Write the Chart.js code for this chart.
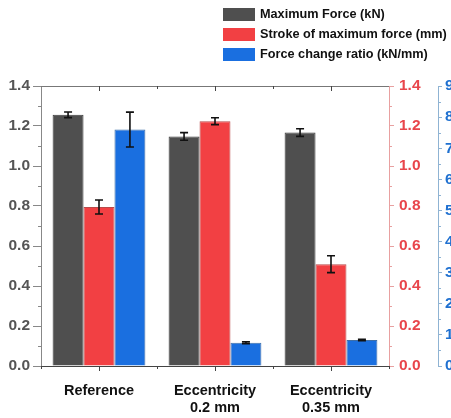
<!DOCTYPE html>
<html>
<head>
<meta charset="utf-8">
<script src="https://cdn.jsdelivr.net/npm/chart.js@4"></script>
<style>
  html, body { margin: 0; padding: 0; overflow: hidden; background: #fff; }
  #wrap { position: relative; width: 458px; height: 418px; }
  #legend { position: absolute; left: 223px; top: 8px; font: bold 12.7px "Liberation Sans", Arial, sans-serif; color: #111; }
  #legend div { height: 20px; display: flex; align-items: flex-start; }
  #legend span.box { display: inline-block; width: 32px; height: 13px; margin-right: 5px; }
  #legend span.txt { line-height: 13px; }
</style>
</head>
<body>
<div id="wrap">
  <canvas id="chart" width="458" height="418"></canvas>
  <div id="legend"></div>
</div>
<script>
const categories = [["Reference"], ["Eccentricity", "0.2 mm"], ["Eccentricity", "0.35 mm"]];
const maxForce = [1.256, 1.148, 1.167];
const maxForceErr = [0.014, 0.019, 0.019];
const stroke = [0.795, 1.224, 0.509];
const strokeErr = [0.035, 0.017, 0.042];
const forceRatio = [7.60, 0.75, 0.835];
const forceRatioErr = [0.56, 0.03, 0.025];
const leftTicks = [0, 0.2, 0.4, 0.6, 0.8, 1.0, 1.2, 1.4];
const blueTicks = [0, 1, 2, 3, 4, 5, 6, 7, 8, 9];

const FONT = '"Liberation Sans", Arial, sans-serif';

// error bars drawn on top of each bar
const errorBars = {
  id: "errorBars",
  afterDatasetsDraw(chart) {
    const ctx = chart.ctx;
    ctx.save();
    ctx.strokeStyle = "#111";
    ctx.lineWidth = 1.6;
    chart.data.datasets.forEach((ds, i) => {
      const meta = chart.getDatasetMeta(i);
      const scale = chart.scales[ds.yAxisID];
      meta.data.forEach((bar, j) => {
        const hi = scale.getPixelForValue(ds.data[j] + ds.errors[j]);
        const lo = scale.getPixelForValue(ds.data[j] - ds.errors[j]);
        ctx.beginPath();
        ctx.moveTo(bar.x, hi); ctx.lineTo(bar.x, lo);
        ctx.moveTo(bar.x - 4, hi); ctx.lineTo(bar.x + 4, hi);
        ctx.moveTo(bar.x - 4, lo); ctx.lineTo(bar.x + 4, lo);
        ctx.stroke();
      });
    });
    ctx.restore();
  }
};

// minor ticks, top frame line, x tick marks
const frame = {
  id: "frame",
  afterDraw(chart) {
    const ctx = chart.ctx;
    const area = chart.chartArea;
    const x = chart.scales.x;
    ctx.save();
    ctx.lineWidth = 1;

    ctx.strokeStyle = "#777";
    ctx.beginPath();
    ctx.moveTo(area.left, area.top + 0.5);
    ctx.lineTo(area.right, area.top + 0.5);
    ctx.stroke();

    ctx.strokeStyle = "#444";
    ctx.beginPath();
    for (let k = 0; k < categories.length; k++) {
      const cx = Math.round(x.getPixelForValue(k)) + 0.5;
      ctx.moveTo(cx, area.bottom); ctx.lineTo(cx, area.bottom + 5);
      ctx.moveTo(cx, area.top); ctx.lineTo(cx, area.top + 5);
    }
    for (let k = 0; k <= categories.length; k++) {
      const bx = Math.round(x.getPixelForValue(k - 0.5)) + 0.5;
      ctx.moveTo(bx, area.bottom); ctx.lineTo(bx, area.bottom + 3);
      if (k > 0 && k < categories.length) { ctx.moveTo(bx, area.top); ctx.lineTo(bx, area.top + 3); }
    }
    ctx.stroke();

    [["y", "#888", -1], ["y1", "#e8a0a0", 1], ["y2", "#8fb3d3", 1]].forEach(([id, col, dir]) => {
      const s = chart.scales[id];
      const ax = dir < 0 ? s.right : s.left;
      ctx.strokeStyle = col;
      ctx.beginPath();
      for (let t = 0; t < s.ticks.length - 1; t++) {
        const mid = (s.ticks[t].value + s.ticks[t + 1].value) / 2;
        const py = Math.round(s.getPixelForValue(mid)) + 0.5;
        ctx.moveTo(ax, py); ctx.lineTo(ax + dir * 3, py);
      }
      ctx.stroke();
    });
    ctx.restore();
  }
};

function yAxis(position, max, color, lineColor, weight, width, tickLength, padding) {
  return {
    position: position,
    min: 0,
    max: max,
    weight: weight,
    afterBuildTicks: (s) => {
      const src = max === 9 ? blueTicks : leftTicks;
      s.ticks = src.map(v => ({ value: v }));
    },
    afterFit: (s) => { s.width = width; },
    grid: { drawOnChartArea: false, drawTicks: true, tickLength: tickLength, color: lineColor },
    border: { display: true, color: lineColor, width: 1 },
    ticks: {
      color: color,
      padding: padding,
      font: { family: FONT, size: 15.5, weight: "bold" },
      callback: (v) => max === 9 ? String(v) : Number(v).toFixed(1)
    }
  };
}

document.addEventListener("DOMContentLoaded", () => {
  const datasets = [
    { label: "Maximum Force (kN)", data: maxForce, errors: maxForceErr, yAxisID: "y",
      backgroundColor: "#4f4f4f", borderColor: "#3a3a3a" },
    { label: "Stroke of maximum force (mm)", data: stroke, errors: strokeErr, yAxisID: "y1",
      backgroundColor: "#f24043", borderColor: "#b84a4a" },
    { label: "Force change ratio (kN/mm)", data: forceRatio, errors: forceRatioErr, yAxisID: "y2",
      backgroundColor: "#1a6fe0", borderColor: "#3f6fa8" }
  ];
  datasets.forEach(d => { d.borderWidth = 1; d.categoryPercentage = 0.8; d.barPercentage = 1.0; });

  // html legend built from the datasets
  document.getElementById("legend").innerHTML = datasets
    .map(d => `<div><span class="box" style="background:${d.backgroundColor}"></span><span class="txt">${d.label}</span></div>`)
    .join("");

  new Chart(document.getElementById("chart"), {
    type: "bar",
    data: { labels: categories, datasets: datasets },
    options: {
      responsive: false,
      animation: false,
      layout: { padding: { top: 86, left: 0, right: 0, bottom: 0 } },
      plugins: { legend: { display: false }, tooltip: { enabled: false } },
      scales: {
        x: {
          afterFit: (s) => { s.height = 52; },
          grid: { display: false, drawTicks: false },
          border: { display: true, color: "#444", width: 1 },
          ticks: {
            color: "#111",
            padding: 16,
            maxRotation: 0,
            autoSkip: false,
            font: { family: FONT, size: 14.5, weight: "bold", lineHeight: 1.2 }
          }
        },
        y: yAxis("left", 1.4, "#555", "#888", 0, 41, 8, 3),
        y1: yAxis("right", 1.4, "#e8454b", "#e8a0a0", 0, 49, 5, 5),
        y2: yAxis("right", 9, "#1f70d0", "#8fb3d3", 1, 20, 4, 3)
      }
    },
    plugins: [errorBars, frame]
  });
});
</script>
</body>
</html>
